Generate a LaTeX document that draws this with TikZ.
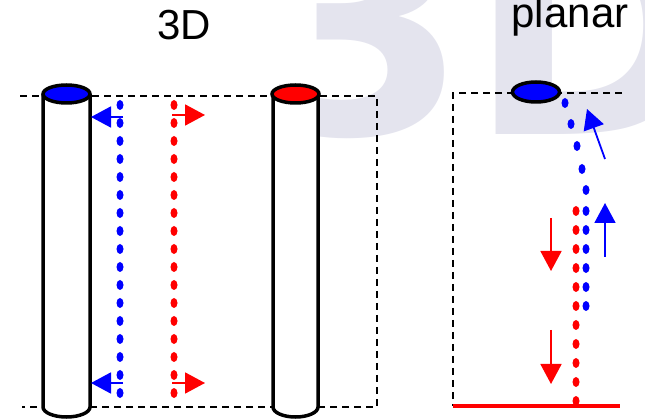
\documentclass[tikz,border=0pt]{standalone}
\usepackage{fontspec}
\setmainfont{Liberation Sans}
\newfontfamily\markfont{DejaVu Sans}
\usetikzlibrary{arrows.meta}

\definecolor{wmark}{RGB}{228,228,238}

\tikzset{
  guide/.style={line width=1.4pt, dash pattern=on 7pt off 5pt},
  wall/.style={line width=3.5pt},
  push/.style={line width=1.8pt, -{Triangle[length=20pt,width=21pt]}},
}

\begin{document}
\begin{tikzpicture}[x=1pt, y=-1pt]
  \useasboundingbox (0,0) rectangle (645,419);

  % faded background lettering
  \node [wmark, font=\markfont\fontsize{300}{300}\selectfont\bfseries, anchor=base west, inner sep=0pt] (wm) at (259,135) {3D};

  \node [anchor=base, font=\fontsize{42}{42}\selectfont] (tdlabel) at (184,40) {3D};
  \node [anchor=base, font=\fontsize{42}{42}\selectfont] (planarlabel) at (570,28) {planar};

  % left: two pillars inside a dashed box
  \draw [guide] (20,96) -- (377,96) -- (377,407) -- (22,407);

  \draw [wall, fill=white] (43,94) -- (43,407) arc [start angle=180, end angle=0, x radius=23.5, y radius=10] -- (90,94);
  \draw [wall, fill=blue] (66.5,94) ellipse [x radius=23.5, y radius=9];

  \draw [wall, fill=white] (273,94) -- (273,407) arc [start angle=180, end angle=0, x radius=22.5, y radius=10] -- (318,94);
  \draw [wall, fill=red] (295.5,94) ellipse [x radius=23.5, y radius=9];

  \foreach \y in {105,123,...,393} {
    \fill [blue] (120,\y) ellipse [x radius=3.5, y radius=5];
    \fill [red] (174,\y) ellipse [x radius=3.5, y radius=5];
  }

  \coordinate (bt0) at (123,117);
  \coordinate (bt1) at (91,117);
  \coordinate (bb0) at (123,383);
  \coordinate (bb1) at (91,383);
  \coordinate (rt0) at (172,115);
  \coordinate (rt1) at (205,115);
  \coordinate (rb0) at (172,383);
  \coordinate (rb1) at (205,383);
  \draw [push, blue] (bt0) -- (bt1);
  \draw [push, blue] (bb0) -- (bb1);
  \draw [push, red] (rt0) -- (rt1);
  \draw [push, red] (rb0) -- (rb1);

  % right: planar version
  \draw [guide] (622,93) -- (453,93) -- (453,406);
  \draw [red, line width=4pt] (453,406) -- (620,406);
  \draw [wall, fill=blue] (536,92) ellipse [x radius=23.5, y radius=10];

  \foreach \x/\y in {565/103, 571/124, 577/146, 582/169, 586/190}
    \fill [blue] (\x,\y) ellipse [x radius=3.5, y radius=5];
  \foreach \y in {211,230,...,306}
    \fill [blue] (586,\y) ellipse [x radius=3.5, y radius=5];
  \foreach \y in {211,230,...,401}
    \fill [red] (576,\y) ellipse [x radius=3.5, y radius=5];

  \coordinate (up0) at (605,159);
  \coordinate (up1) at (587,109);
  \coordinate (uv0) at (605,257);
  \coordinate (uv1) at (605,203);
  \coordinate (dn0) at (551,218);
  \coordinate (dn1) at (551,271);
  \coordinate (dm0) at (551,330);
  \coordinate (dm1) at (551,384);
  \draw [push, blue] (up0) -- (up1);
  \draw [push, blue] (uv0) -- (uv1);
  \draw [push, red] (dn0) -- (dn1);
  \draw [push, red] (dm0) -- (dm1);
\end{tikzpicture}
\end{document}
